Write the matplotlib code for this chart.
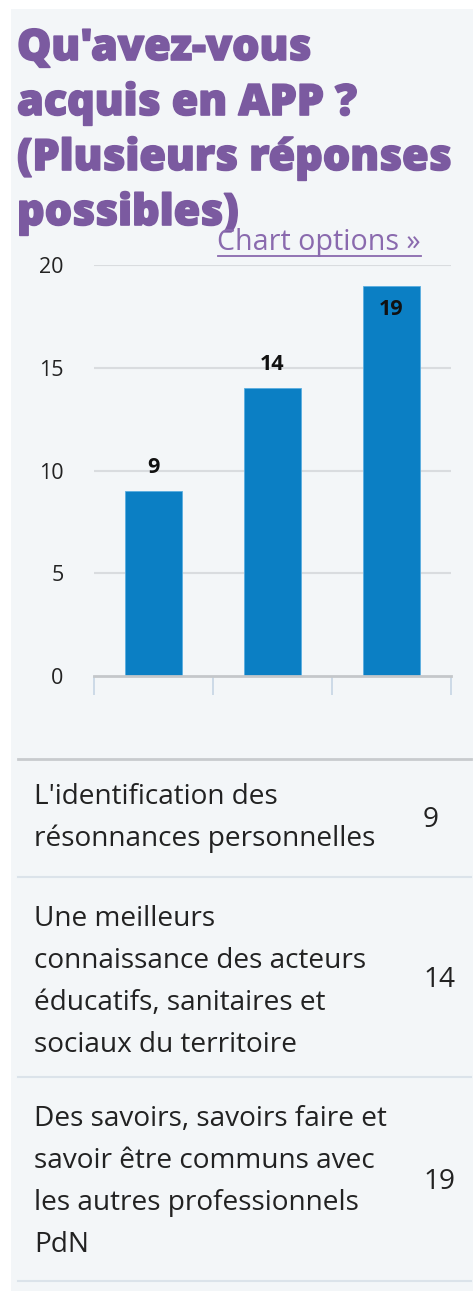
import matplotlib
matplotlib.use("Agg")
import matplotlib.pyplot as plt
from matplotlib.patches import Rectangle
from matplotlib.lines import Line2D
import matplotlib.patheffects as pe

# ---- data ----
title_lines = ["Qu'avez-vous", "acquis en APP ?", "(Plusieurs réponses", "possibles)"]
categories = [
    "L'identification des\nrésonnances personnelles",
    "Une meilleurs\nconnaissance des acteurs\néducatifs, sanitaires et\nsociaux du territoire",
    "Des savoirs, savoirs faire et\nsavoir être communs avec\nles autres professionnels\nPdN",
]
values = [9, 14, 19]
y_ticks = [0, 5, 10, 15, 20]
link_text = "Chart options »"

W, H = 473, 1291
DPI = 100
BG = "#f3f6f8"
PURPLE = "#7b5aa0"
BAR = "#0b7fc4"
TEXT = "#222222"
FONT = ["Open Sans", "DejaVu Sans"]

fig = plt.figure(figsize=(W / DPI, H / DPI), dpi=DPI, facecolor="white")

def fx(x):
    return x / W

def fy(y):
    return 1 - y / H

# panel background
fig.patches.append(Rectangle((fx(11), 0), 1 - fx(11), fy(9), transform=fig.transFigure,
                             facecolor=BG, edgecolor="none", zorder=-5))

# title
for i, line in enumerate(title_lines):
    fig.text(fx(17), fy(60 + 55 * i), line, fontsize=31, fontweight="heavy",
             color=PURPLE, family=FONT, va="baseline", ha="left",
             path_effects=[pe.withStroke(linewidth=1.2, foreground=PURPLE)])

# chart options link
fig.text(fx(421), fy(250), link_text, fontsize=20.6, color="#8a6aae", family=FONT,
         va="baseline", ha="right")
fig.lines.append(Line2D([fx(218), fx(421)], [fy(256), fy(256)], transform=fig.transFigure,
                        color="#8a6aae", lw=1.3))

# axes
ax = fig.add_axes([fx(94), fy(676), fx(451) - fx(94), (676 - 265) / H])
ax.set_zorder(2)
ax.patch.set_visible(False)
x = list(range(len(values)))
bars = ax.bar(x, values, width=0.48, color=BAR, edgecolor="#5aaee0", linewidth=0.6, zorder=3)
ax.set_xlim(-0.5, len(values) - 0.5)
ax.set_ylim(0, 20)
ax.set_yticks(y_ticks)
ax.set_yticklabels([str(v) for v in y_ticks], fontsize=15.5, family=FONT, color=TEXT)
ax.tick_params(axis="y", length=0, pad=22)
ax.set_xticks([])
ax.set_xticks([i - 0.5 for i in range(len(values) + 1)], minor=True)
ax.tick_params(axis="x", which="minor", length=13.7, width=1.3, color="#c9d8e6", direction="out")
for s in ["top", "right", "left"]:
    ax.spines[s].set_visible(False)
ax.spines["bottom"].set_color("#c4c7ca")
ax.spines["bottom"].set_linewidth(2)
ax.spines["bottom"].set_zorder(4)
for v in y_ticks[1:]:
    ax.axhline(v, color="#d9dcdf", lw=1.5, zorder=1)

for b, v in zip(bars, values):
    top = b.get_height()
    off = -17.3 if v >= 18 else 17.3
    ax.annotate(str(v), (b.get_x() + b.get_width() / 2, top), xytext=(0, off),
                textcoords="offset points", ha="center", va="center",
                fontsize=15.5, fontweight="bold", family=FONT, color="#111111", zorder=5)

# table
sep_y = [759, 877, 1077, 1281]
first_base = [804, 926, 1126]
val_base = [827, 987, 1189]
for k, yy in enumerate(sep_y):
    col = "#c8cbce" if k == 0 else "#dbe3ea"
    lw = 2 if k == 0 else 1.5
    fig.lines.append(Line2D([fx(18), fx(471)], [fy(yy), fy(yy)], transform=fig.transFigure,
                            color=col, lw=lw))
for r, (label, val) in enumerate(zip(categories, values)):
    for j, line in enumerate(label.split("\n")):
        fig.text(fx(34), fy(first_base[r] + 42 * j), line, fontsize=20.2, family=FONT,
                 color=TEXT, va="baseline", ha="left")
    fig.text(fx(423), fy(val_base[r]), str(val), fontsize=20.2, family=FONT,
             color=TEXT, va="baseline", ha="left")

fig.savefig("out.png", dpi=DPI, facecolor="white")
